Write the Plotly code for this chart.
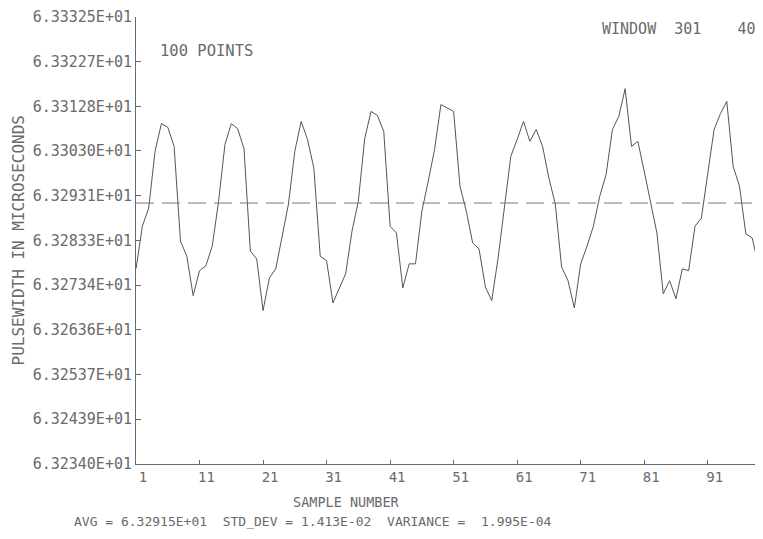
import plotly.graph_objects as go

# pulse width samples 301..400, shown as sample number 1..100
sample = list(range(1, 101))
pulsewidth = [
    6.32770, 6.32864, 6.32904, 6.33029, 6.33090, 6.33082, 6.33040, 6.32831, 6.32798, 6.32711,
    6.32766, 6.32777, 6.32820, 6.32919, 6.33044, 6.33090, 6.33079, 6.33035, 6.32809, 6.32792,
    6.32678, 6.32750, 6.32770, 6.32842, 6.32913, 6.33029, 6.33095, 6.33055, 6.32992, 6.32798,
    6.32788, 6.32695, 6.32728, 6.32759, 6.32853, 6.32919, 6.33057, 6.33117, 6.33108, 6.33073,
    6.32864, 6.32849, 6.32728, 6.32781, 6.32781, 6.32897, 6.32963, 6.33033, 6.33132, 6.33125,
    6.33117, 6.32952, 6.32897, 6.32827, 6.32814, 6.32730, 6.32700, 6.32794, 6.32908, 6.33018,
    6.33055, 6.33095, 6.33051, 6.33077, 6.33040, 6.32970, 6.32913, 6.32774, 6.32744, 6.32684,
    6.32781, 6.32820, 6.32864, 6.32930, 6.32978, 6.33077, 6.33106, 6.33167, 6.33040, 6.33051,
    6.32985, 6.32913, 6.32849, 6.32715, 6.32744, 6.32704, 6.32770, 6.32766, 6.32864, 6.32882,
    6.32974, 6.33077, 6.33112, 6.33139, 6.32996, 6.32952, 6.32847, 6.32838, 6.32777, 6.32722,
]
avg = 6.32915

y_ticks = [6.33325, 6.33227, 6.33128, 6.33030, 6.32931, 6.32833,
           6.32734, 6.32636, 6.32537, 6.32439, 6.32340]
y_labels = ["6.33325E+01", "6.33227E+01", "6.33128E+01", "6.33030E+01",
            "6.32931E+01", "6.32833E+01", "6.32734E+01", "6.32636E+01",
            "6.32537E+01", "6.32439E+01", "6.32340E+01"]
x_ticks = [1, 11, 21, 31, 41, 51, 61, 71, 81, 91]

ink = "#6a6a6a"
mono = "DejaVu Sans Mono"

fig = go.Figure()

fig.add_trace(
    go.Scatter(
        x=sample,
        y=pulsewidth,
        mode="lines",
        line=dict(color="#555555", width=1),
    )
)

fig.add_trace(
    go.Scatter(
        x=[sample[0], sample[-1]],
        y=[avg, avg],
        mode="lines",
        line=dict(color="#777777", width=1, dash="18px,8px"),
    )
)

fig.update_xaxes(
    range=[1, 99.7],
    tickvals=x_ticks,
    ticks="inside",
    ticklen=4,
    tickcolor=ink,
    showline=True,
    linecolor=ink,
    linewidth=1,
    showgrid=False,
    zeroline=False,
    ticklabelshift=7,
    ticklabeloverflow="allow",
    tickfont=dict(family=mono, size=14, color=ink),
)

fig.update_yaxes(
    range=[y_ticks[-1], y_ticks[0]],
    tickvals=y_ticks,
    ticktext=y_labels,
    ticks="inside",
    ticklen=5,
    tickcolor=ink,
    showline=True,
    linecolor=ink,
    linewidth=1,
    showgrid=False,
    zeroline=False,
    ticklabeloverflow="allow",
    tickfont=dict(family=mono, size=15, color=ink),
)

# page body adds an 8px margin, so the figure is placed from (8, 8)
fig.add_annotation(
    text="PULSEWIDTH IN MICROSECONDS", textangle=-90,
    xref="paper", yref="paper", x=-118 / 627, y=0.5, xanchor="center", yanchor="middle",
    showarrow=False, font=dict(family=mono, size=16, color=ink),
)
fig.add_annotation(
    text="SAMPLE NUMBER",
    xref="paper", yref="paper", x=(346 - 136) / 627, y=-38 / 449,
    xanchor="center", yanchor="middle",
    showarrow=False, font=dict(family=mono, size=13.5, color=ink),
)
fig.add_annotation(
    text="AVG = 6.32915E+01  STD_DEV = 1.413E-02  VARIANCE =  1.995E-04",
    xref="paper", yref="paper", x=(72 - 136) / 627, y=-58 / 449,
    xanchor="left", yanchor="middle",
    showarrow=False, font=dict(family=mono, size=13, color=ink),
)
fig.add_annotation(
    text="100 POINTS",
    xref="paper", yref="paper", x=(158 - 136) / 627, y=(464 - 49) / 449,
    xanchor="left", yanchor="middle",
    showarrow=False, font=dict(family=mono, size=15.5, color=ink),
)
fig.add_annotation(
    text="WINDOW  301    400",
    xref="paper", yref="paper", x=(600 - 136) / 627, y=(464 - 27) / 449,
    xanchor="left", yanchor="middle",
    showarrow=False, font=dict(family=mono, size=15, color=ink),
)

fig.update_layout(
    width=755,
    height=531,
    margin=dict(l=128, r=0, t=7, b=75),
    paper_bgcolor="white",
    plot_bgcolor="white",
    showlegend=False,
)

fig.write_html("out.html")
